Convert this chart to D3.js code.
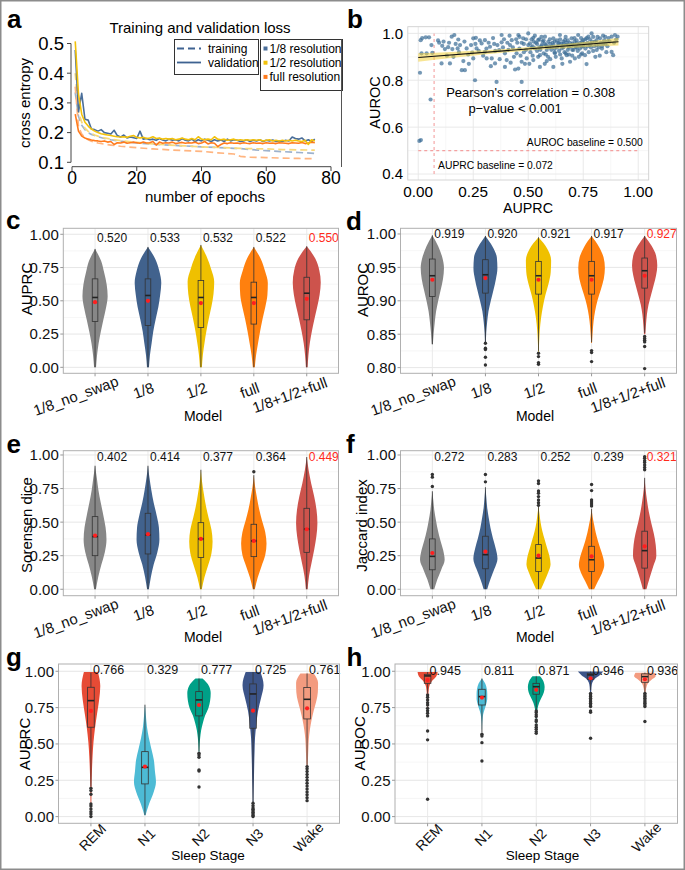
<!DOCTYPE html>
<html><head><meta charset="utf-8">
<script src="https://cdn.jsdelivr.net/npm/d3@7"></script>
<style>
body{margin:0;background:#fff}
svg{display:block}
text{font-family:"Liberation Sans",Arial,Helvetica,sans-serif}
</style></head>
<body><svg id="fig" width="685" height="870"></svg>
<script>
// ================= DATA =================
// Panel a: training / validation loss
const epochs = d3.range(1, 76);
const valBlue = [0.478,0.27,0.332,0.245,0.242,0.212,0.21,0.205,0.21,0.2,
 0.198,0.195,0.208,0.19,0.185,0.192,0.182,0.185,0.183,0.18,
 0.205,0.178,0.18,0.176,0.178,0.174,0.18,0.175,0.172,0.178,
 0.174,0.176,0.172,0.18,0.174,0.172,0.178,0.17,0.176,0.172,
 0.178,0.174,0.17,0.176,0.172,0.175,0.17,0.178,0.172,0.176,
 0.174,0.17,0.172,0.176,0.17,0.174,0.172,0.176,0.17,0.174,
 0.172,0.175,0.17,0.172,0.17,0.174,0.172,0.185,0.18,0.178,
 0.182,0.172,0.176,0.17,0.178];
const valYellow = [0.507,0.33,0.262,0.235,0.222,0.212,0.205,0.2,0.196,0.194,
 0.192,0.19,0.188,0.186,0.185,0.186,0.184,0.188,0.19,0.184,
 0.182,0.184,0.18,0.182,0.186,0.18,0.182,0.178,0.18,0.178,
 0.18,0.176,0.178,0.182,0.178,0.176,0.18,0.176,0.186,0.178,
 0.176,0.178,0.176,0.186,0.178,0.176,0.178,0.174,0.176,0.178,
 0.174,0.176,0.174,0.176,0.174,0.176,0.174,0.176,0.172,0.174,
 0.176,0.172,0.174,0.172,0.174,0.172,0.174,0.172,0.174,0.172,
 0.17,0.174,0.16,0.176,0.172];
const valOrange = [0.262,0.205,0.188,0.182,0.178,0.175,0.173,0.172,0.17,0.172,
 0.168,0.17,0.16,0.166,0.165,0.168,0.164,0.166,0.168,0.166,
 0.164,0.168,0.165,0.166,0.17,0.158,0.168,0.164,0.166,0.165,
 0.168,0.163,0.165,0.167,0.164,0.166,0.165,0.168,0.163,0.165,
 0.17,0.162,0.166,0.164,0.153,0.16,0.165,0.163,0.166,0.164,
 0.165,0.163,0.166,0.164,0.163,0.166,0.164,0.165,0.163,0.166,
 0.164,0.165,0.163,0.166,0.165,0.164,0.163,0.166,0.165,0.164,
 0.167,0.163,0.165,0.168,0.166];
const trainEpochs = [1,2,3,4,5,6,7,8,10,12,15,20,25,30,35,40,45,50,52,55,60,65,70,75];
const trainBlue = [0.335,0.255,0.225,0.21,0.2,0.194,0.19,0.186,0.18,0.176,0.171,0.165,0.161,0.158,0.155,0.152,0.15,0.147,0.146,0.143,0.139,0.136,0.133,0.13];
const trainYellow = [0.40,0.27,0.235,0.215,0.204,0.197,0.192,0.188,0.182,0.178,0.173,0.167,0.162,0.158,0.155,0.152,0.15,0.148,0.147,0.146,0.145,0.143,0.142,0.141];
const trainOrange = [0.355,0.22,0.195,0.183,0.176,0.171,0.168,0.165,0.161,0.158,0.154,0.149,0.145,0.142,0.139,0.137,0.132,0.128,0.12,0.117,0.116,0.114,0.113,0.112];
const lossTicksX = [0,20,40,60,80];
const lossTicksY = [0.1,0.2,0.3,0.4,0.5];
const lossLegendLines = ["training","validation"];
const lossLegendRes = ["1/8 resolution","1/2 resolution","full resolution"];

// Panel b: scatter AUPRC vs AUROC  [AUPRC, AUROC]
const scatterPoints = [
[0.005,0.541],[0.012,0.545],[0.056,0.718],[0.008,0.832],[0.011,0.971],[0.018,0.98],[0.034,0.983],[0.049,0.983],[0.015,0.915],[0.038,0.915],[0.064,0.917],[0.06,0.95],[0.09,0.97],[0.095,0.96],
[0.109,0.947],[0.121,0.933],[0.136,0.941],[0.152,0.986],[0.164,0.993],[0.155,0.933],[0.179,0.936],[0.182,0.974],[0.106,0.872],[0.144,0.872],[0.13,0.905],[0.17,0.955],[0.19,0.95],[0.115,0.965],[0.198,0.843],[0.16,0.9],[0.14,0.96],[0.185,0.92],
[0.205,0.882],[0.212,0.843],[0.22,0.936],[0.227,0.91],[0.25,0.979],[0.262,0.981],[0.258,0.80],[0.265,0.936],[0.25,0.893],[0.288,0.957],[0.24,0.95],[0.275,0.925],[0.21,0.965],[0.23,0.87],[0.295,0.905],[0.28,0.97],[0.26,0.955],[0.245,0.918],
[0.303,0.971],[0.303,0.921],[0.311,0.893],[0.326,0.943],[0.334,0.893],[0.349,0.872],[0.356,0.793],[0.368,0.929],[0.379,0.993],[0.379,0.962],[0.394,0.915],[0.394,0.857],[0.32,0.96],[0.34,0.98],[0.36,0.95],[0.385,0.94],[0.31,0.935],[0.35,0.925],[0.37,0.89],[0.33,0.86],[0.39,0.975],[0.345,0.955],
[0.402,0.886],[0.417,0.95],[0.425,0.971],[0.44,0.846],[0.447,0.915],[0.455,0.993],[0.477,0.979],[0.47,0.879],[0.493,0.893],[0.455,0.85],[0.47,0.793],[0.41,0.93],[0.43,0.94],[0.435,0.9],[0.45,0.96],[0.46,0.935],[0.48,0.955],[0.49,0.93],[0.405,0.96],[0.42,0.875],[0.465,0.905],[0.485,0.87],[0.445,0.975],[0.415,0.99],
[0.50,1.0],[0.508,0.957],[0.523,0.981],[0.53,0.936],[0.545,0.971],[0.553,0.907],[0.561,0.95],[0.576,0.986],[0.584,0.929],[0.591,0.964],[0.523,0.886],[0.553,0.857],[0.584,0.882],[0.51,0.92],[0.52,0.945],[0.535,0.96],[0.54,0.925],[0.55,0.94],[0.565,0.965],[0.57,0.915],[0.58,0.95],[0.595,0.94],[0.515,0.975],[0.56,0.985],[0.545,0.9],[0.59,0.9],[0.505,0.87],[0.575,0.87],[0.598,0.975],[0.555,0.93],
[0.606,0.943],[0.614,0.979],[0.621,0.915],[0.636,0.957],[0.644,0.993],[0.652,0.936],[0.667,0.971],[0.675,0.907],[0.682,0.95],[0.697,0.979],[0.614,0.857],[0.652,0.893],[0.69,0.879],[0.61,0.96],[0.62,0.935],[0.63,0.97],[0.64,0.925],[0.65,0.955],[0.66,0.94],[0.665,0.92],[0.67,0.985],[0.68,0.93],[0.69,0.96],[0.625,0.9],[0.645,0.91],[0.685,0.91],[0.635,0.945],[0.66,0.965],[0.605,0.93],[0.695,0.945],[0.655,0.87],[0.672,0.95],
[0.705,0.929],[0.712,0.893],[0.72,0.957],[0.727,0.993],[0.743,0.943],[0.75,0.971],[0.758,0.907],[0.765,0.869],[0.773,0.986],[0.78,0.95],[0.788,1.0],[0.71,0.965],[0.715,0.94],[0.725,0.925],[0.735,0.96],[0.74,0.98],[0.745,0.915],[0.755,0.955],[0.76,0.935],[0.77,0.96],[0.775,0.92],[0.785,0.94],[0.79,0.965],[0.73,0.9],[0.795,0.925],[0.765,0.98],[0.705,0.95],[0.72,0.94],[0.78,0.975],
[0.803,0.964],[0.811,0.929],[0.826,0.979],[0.841,0.957],[0.879,0.986],[0.894,0.993],[0.906,0.986],[0.879,0.921],[0.886,0.907],[0.81,0.95],[0.82,0.94],[0.83,0.96],[0.835,0.935],[0.845,0.97],[0.85,0.955],[0.86,0.945],[0.87,0.965],[0.9,0.975],[0.815,0.985],[0.855,0.92],[0.865,0.98],[0.805,0.9],[0.825,0.905],[0.84,0.99],[0.89,0.96],
[0.46,0.985],[0.47,0.96],[0.49,0.975],[0.5,0.95],[0.515,0.94],[0.525,0.965],[0.53,0.99],[0.54,0.955],[0.55,0.975],[0.56,0.945],[0.57,0.97],[0.575,0.955],[0.585,0.945],[0.6,0.955],[0.615,0.95],[0.62,0.965],[0.63,0.94],[0.64,0.96],[0.645,0.975],[0.655,0.945],[0.66,0.955],[0.675,0.96],[0.68,0.97],[0.685,0.94],[0.7,0.955],[0.7,0.93],[0.71,0.98],[0.72,0.97],[0.73,0.95],[0.735,0.935],[0.745,0.965],[0.75,0.945],[0.76,0.975],[0.77,0.945],[0.785,0.955],[0.795,0.985],[0.8,0.945],[0.81,0.97],[0.82,0.955],[0.835,0.945],[0.85,0.985],[0.86,0.965],[0.62,0.92],[0.67,0.915],[0.7,0.905],[0.74,0.91],[0.58,0.91],[0.6,0.89],[0.52,0.905],[0.48,0.92]
];
const fitX = [0, 0.91];
const fitY = [0.897, 0.964];
const bandX = [0, 0.15, 0.3, 0.45, 0.6, 0.75, 0.91];
const bandHalf = [0.018, 0.013, 0.009, 0.007, 0.008, 0.011, 0.016];
const scatterTicksX = [0, 0.25, 0.5, 0.75, 1.0];
const scatterTicksY = [0.4, 0.6, 0.8, 1.0];
const baselineAUPRC = 0.072, baselineAUROC = 0.5;

// Violin panels
const models = ["1/8_no_swap","1/8","1/2","full","1/8+1/2+full"];
const stages = ["REM","N1","N2","N3","Wake"];
const unitTicks = [0, 0.25, 0.5, 0.75, 1.0];
const aurocTicks = [0.80, 0.85, 0.90, 0.95, 1.00];

// c: AUPRC by model
const cLabels = ["0.520","0.533","0.532","0.522","0.550"];
const cRange = [[0,0.89],[0,0.905],[0,0.92],[0,0.905],[0,0.91]];
const cDensity = [
 [0.07,0.14,0.25,0.41,0.59,0.78,0.9,0.83,0.65,0.43,0],
 [0.07,0.14,0.26,0.38,0.55,0.74,0.87,0.95,0.81,0.52,0],
 [0.07,0.14,0.26,0.4,0.57,0.76,0.9,0.95,0.74,0.43,0],
 [0.07,0.16,0.3,0.45,0.62,0.82,0.97,1.0,0.8,0.5,0],
 [0.06,0.12,0.22,0.37,0.55,0.75,0.92,1.0,0.9,0.6,0]];
const cBox = [[0,0.345,0.525,0.665,0.89],[0,0.315,0.54,0.665,0.905],[0,0.30,0.525,0.652,0.92],[0,0.325,0.525,0.64,0.905],[0,0.357,0.557,0.677,0.91]];
const cMean = [0.49,0.50,0.483,0.483,0.515];
const cOut = [[],[],[],[],[]];

// d: AUROC by model
const dLabels = ["0.919","0.920","0.921","0.917","0.927"];
const dRange = [[0.835,0.998],[0.836,0.997],[0.822,0.995],[0.837,0.997],[0.85,0.997]];
const dDensity = [
 [0.04,0.1,0.18,0.28,0.44,0.63,0.8,0.875,0.74,0.44,0],
 [0.03,0.06,0.13,0.23,0.41,0.61,0.79,0.9,0.86,0.54,0],
 [0.02,0.05,0.1,0.19,0.33,0.52,0.76,0.92,0.95,0.67,0],
 [0.03,0.08,0.15,0.27,0.45,0.7,0.92,1.0,0.9,0.55,0],
 [0.05,0.1,0.17,0.29,0.48,0.68,0.86,0.95,0.86,0.52,0]];
const dBox = [[0.835,0.9065,0.9375,0.9625,0.998],[0.838,0.9115,0.939,0.9615,0.997],[0.825,0.91,0.9375,0.959,0.995],[0.838,0.91,0.9375,0.959,0.997],[0.852,0.919,0.945,0.964,0.997]];
const dMean = [0.9315,0.934,0.9315,0.9315,0.9375];
const dOut = [[],[0.8365,0.829,0.827,0.8155,0.804],[0.8215,0.8165,0.8075,0.805],[0.8255,0.8225,0.809],[0.8465,0.8435,0.841,0.8385,0.8315,0.7985]];

// e: Sorensen dice by model
const eLabels = ["0.402","0.414","0.377","0.364","0.449"];
const eRange = [[0,0.92],[0,0.92],[0,0.89],[0,0.85],[0,0.985]];
const eDensity = [
 [0.07,0.25,0.5,0.77,0.9,0.83,0.65,0.45,0.27,0.14,0],
 [0.07,0.23,0.45,0.74,0.9,0.86,0.68,0.45,0.27,0.12,0],
 [0.07,0.28,0.57,0.83,0.92,0.83,0.6,0.39,0.23,0.09,0],
 [0.08,0.3,0.6,0.9,1.0,0.9,0.65,0.42,0.25,0.1,0],
 [0.07,0.18,0.38,0.59,0.76,0.84,0.77,0.59,0.35,0.15,0]];
const eBox = [[0,0.25,0.392,0.541,0.92],[0,0.263,0.405,0.566,0.92],[0,0.236,0.375,0.496,0.89],[0,0.243,0.36,0.484,0.85],[0,0.275,0.447,0.603,0.985]];
const eMean = [0.40,0.41,0.375,0.36,0.447];
const eOut = [[],[],[],[0.875],[]];

// f: Jaccard index by model
const fLabels = ["0.272","0.283","0.252","0.239","0.321"];
const fRange = [[0,0.73],[0,0.76],[0,0.62],[0,0.60],[0,0.83]];
const fDensity = [
 [0.15,0.39,0.7,0.97,0.85,0.63,0.44,0.29,0.16,0.08,0],
 [0.14,0.4,0.71,0.95,0.81,0.59,0.4,0.26,0.14,0.07,0],
 [0.19,0.48,0.76,0.95,0.86,0.67,0.48,0.3,0.17,0.08,0],
 [0.2,0.5,0.82,1.0,0.9,0.7,0.5,0.33,0.2,0.08,0],
 [0.14,0.39,0.66,0.92,0.87,0.72,0.51,0.32,0.18,0.07,0]];
const fBox = [[0,0.145,0.245,0.375,0.73],[0,0.1525,0.2575,0.395,0.76],[0,0.1325,0.2325,0.3325,0.62],[0,0.1325,0.22,0.32,0.60],[0,0.1575,0.2875,0.4325,0.83]];
const fMean = [0.27,0.28,0.25,0.245,0.32];
const fOut = [[0.765,0.835,0.855],[0.80,0.855],[0.625,0.645,0.665,0.69,0.715,0.7325,0.7875,0.8075],[0.62,0.635,0.65,0.665,0.735,0.78],[0.89,0.9075,0.925,0.945,0.9575,0.975,0.9875]];

// g: AUPRC by sleep stage
const gLabels = ["0.766","0.329","0.777","0.725","0.761"];
const gRange = [[0.03,0.995],[0.01,0.77],[0.44,0.95],[0.09,0.995],[0.34,0.985]];
const gDensity = [
 [0.02,0.04,0.055,0.09,0.14,0.22,0.35,0.52,0.7,0.8,0.6],
 [0.05,0.35,0.72,0.94,0.85,0.76,0.55,0.33,0.17,0.08,0],
 [0.02,0.05,0.1,0.18,0.33,0.52,0.8,0.95,1.0,0.85,0.3],
 [0.03,0.05,0.08,0.1,0.13,0.17,0.28,0.42,0.68,0.9,0.63],
 [0.05,0.08,0.11,0.15,0.24,0.38,0.56,0.78,0.92,0.94,0.57]];
const gBox = [[0.21,0.615,0.798,0.89,0.99],[0.01,0.225,0.339,0.447,0.77],[0.45,0.693,0.803,0.86,0.95],[0.1,0.608,0.844,0.913,0.995],[0.35,0.672,0.807,0.888,0.985]];
const gMean = [0.727,0.344,0.768,0.729,0.745];
const gOut = [[0.195,0.179,0.154,0.087,0.073,0.053,0.034,0.018,0.0],[],[0.436,0.424,0.408,0.321,0.314,0.204],[0.092,0.075,0.06,0.05,0.04,0.03,0.02,0.01,0.0],[0.344,0.33,0.31,0.29,0.27,0.25,0.23,0.21,0.19,0.17,0.15,0.13,0.11]];

// h: AUROC by sleep stage
const hLabels = ["0.945","0.811","0.871","0.946","0.936"];
const hRange = [[0.69,0.995],[0.6,0.95],[0.6,0.965],[0.75,0.998],[0.75,0.99]];
const hDensity = [
 [0.01,0.015,0.02,0.03,0.04,0.06,0.09,0.16,0.36,0.68,0.79],
 [0.01,0.02,0.05,0.1,0.22,0.34,0.42,0.42,0.38,0.26,0],
 [0.01,0.02,0.03,0.06,0.11,0.22,0.42,0.6,0.66,0.58,0.3],
 [0.01,0.015,0.02,0.03,0.04,0.06,0.08,0.15,0.33,0.72,1.0],
 [0.01,0.015,0.02,0.03,0.04,0.07,0.13,0.24,0.52,0.85,0.74]];
const hBox = [[0.85,0.917,0.968,0.979,0.995],[0.58,0.768,0.826,0.876,0.95],[0.735,0.842,0.894,0.917,0.965],[0.87,0.945,0.975,0.986,0.998],[0.85,0.924,0.963,0.982,0.99]];
const hMean = [0.94,0.819,0.872,0.952,0.945];
const hOut = [[0.837,0.821,0.803,0.784,0.768,0.745,0.729,0.711,0.693,0.589,0.528,0.119],[0.567,0.555,0.509,0.383],[0.727,0.716,0.7,0.688,0.665,0.654,0.631,0.615,0.601,0.585,0.573],[0.848,0.837,0.826,0.814,0.803,0.791,0.78,0.768,0.757,0.727,0.718,0.539],[0.848,0.837,0.826,0.814,0.803,0.791,0.78,0.768,0.757,0.654]];

// ================= STYLE =================
const modelColors = ["#878787","#41628d","#efc000","#ff800e","#cd534c"];
const stageColors = ["#e64b35","#4dbbd5","#00a087","#3c5488","#f39b7f"];
const resColors = ["#4a6e9a","#f2c10a","#ff7b1c"];
const resTrainColors = ["#9db2cd","#f8d97a","#ffb580"];

const svg = d3.select("#fig");
svg.append("rect").attr("width",685).attr("height",870).attr("fill","#fff");

function letter(t, x, y){
  svg.append("text").attr("x",x).attr("y",y).attr("font-size",26).attr("font-weight","bold").attr("fill","#000").text(t);
}

// ================= PANEL A =================
(function(){
  const g = svg.append("g");
  const x = d3.scaleLinear().domain([0,80]).range([72,331]);
  const y = d3.scaleLinear().domain([0.1,0.5]).range([162.3,43.5]);
  const axisCol = "#444";
  g.append("line").attr("x1",71).attr("x2",71).attr("y1",y(0.1)).attr("y2",y(0.5)).attr("stroke",axisCol);
  lossTicksY.forEach(t=>{
    g.append("line").attr("x1",67).attr("x2",71).attr("y1",y(t)).attr("y2",y(t)).attr("stroke",axisCol);
    g.append("text").attr("x",64).attr("y",y(t)).attr("dy","0.36em").attr("text-anchor","end").attr("font-size",18.5).text(d3.format(".1f")(t));
  });
  g.append("line").attr("x1",x(0)).attr("x2",x(80)).attr("y1",166.7).attr("y2",166.7).attr("stroke",axisCol);
  lossTicksX.forEach(t=>{
    g.append("line").attr("x1",x(t)).attr("x2",x(t)).attr("y1",166.7).attr("y2",171).attr("stroke",axisCol);
    g.append("text").attr("x",x(t)).attr("y",184).attr("text-anchor","middle").attr("font-size",17.5).text(t);
  });
  const lineT = d3.line().x((d,i)=>x(trainEpochs[i])).y(d=>y(d));
  const lineV = d3.line().x((d,i)=>x(epochs[i])).y(d=>y(d));
  [trainBlue,trainYellow,trainOrange].forEach((s,i)=>{
    g.append("path").attr("d",lineT(s)).attr("fill","none").attr("stroke",resTrainColors[i]).attr("stroke-width",1.7).attr("stroke-dasharray","7,4");
  });
  [[valBlue,0],[valOrange,2],[valYellow,1]].forEach(([s,i])=>{
    g.append("path").attr("d",lineV(s)).attr("fill","none").attr("stroke",resColors[i]).attr("stroke-width",1.6).attr("stroke-linejoin","round");
  });
  g.append("text").attr("x",200).attr("y",33).attr("text-anchor","middle").attr("font-size",15).text("Training and validation loss");
  g.append("text").attr("transform","translate(30,103) rotate(-90)").attr("text-anchor","middle").attr("font-size",15).text("cross entropy");
  g.append("text").attr("x",205).attr("y",201.5).attr("text-anchor","middle").attr("font-size",15).text("number of epochs");
  g.append("rect").attr("x",174.5).attr("y",39.5).attr("width",84).attr("height",35).attr("fill","#fff").attr("stroke","#333");
  lossLegendLines.forEach((t,i)=>{
    const yy = 48.5 + i*14;
    g.append("line").attr("x1",177).attr("x2",201).attr("y1",yy).attr("y2",yy).attr("stroke","#3e6291").attr("stroke-width",1.8).attr("stroke-dasharray", i===0?"7,4":null);
    g.append("text").attr("x",208).attr("y",yy).attr("dy","0.35em").attr("font-size",12).text(t);
  });
  g.append("rect").attr("x",260.5).attr("y",39.5).attr("width",82).attr("height",51).attr("fill","#fff").attr("stroke","#333");
  lossLegendRes.forEach((t,i)=>{
    const yy = 48.5 + i*14.2;
    g.append("rect").attr("x",263.5).attr("y",yy-2).attr("width",4).attr("height",4).attr("fill",resColors[i]);
    g.append("text").attr("x",269.5).attr("y",yy).attr("dy","0.35em").attr("font-size",12).text(t);
  });
  // frame edge on the right of panel a
  g.append("line").attr("x1",341.5).attr("x2",341.5).attr("y1",39.5).attr("y2",167).attr("stroke","#555").attr("stroke-width",1);
  letter("a",7,28);
})();

// ================= PANEL B =================
(function(){
  const g = svg.append("g");
  const L=407.8,R=648.7,T=26.7,B=180;
  const x = d3.scaleLinear().domain([-0.0475,1.0475]).range([L,R]);
  const y = d3.scaleLinear().domain([0.3745,1.0285]).range([B,T]);
  [0.125,0.375,0.625,0.875].forEach(t=>g.append("line").attr("x1",x(t)).attr("x2",x(t)).attr("y1",T).attr("y2",B).attr("stroke","#f2f2f2").attr("stroke-width",0.6));
  [0.5,0.7,0.9].forEach(t=>g.append("line").attr("x1",L).attr("x2",R).attr("y1",y(t)).attr("y2",y(t)).attr("stroke","#f2f2f2").attr("stroke-width",0.6));
  scatterTicksX.forEach(t=>g.append("line").attr("x1",x(t)).attr("x2",x(t)).attr("y1",T).attr("y2",B).attr("stroke","#e6e6e6").attr("stroke-width",0.9));
  scatterTicksY.forEach(t=>g.append("line").attr("x1",L).attr("x2",R).attr("y1",y(t)).attr("y2",y(t)).attr("stroke","#e6e6e6").attr("stroke-width",0.9));
  g.append("rect").attr("x",L).attr("y",T).attr("width",R-L).attr("height",B-T).attr("fill","none").attr("stroke","#d0d0d0").attr("stroke-width",0.9);
  g.append("line").attr("x1",x(baselineAUPRC)).attr("x2",x(baselineAUPRC)).attr("y1",y(0.4)).attr("y2",y(1.0)).attr("stroke","#f4a0a0").attr("stroke-width",1.1).attr("stroke-dasharray","3,3");
  g.append("line").attr("x1",x(0)).attr("x2",x(1)).attr("y1",y(baselineAUROC)).attr("y2",y(baselineAUROC)).attr("stroke","#f4a0a0").attr("stroke-width",1.1).attr("stroke-dasharray","3,3");
  g.selectAll("circle.pt").data(scatterPoints).enter().append("circle")
    .attr("cx",d=>x(d[0])).attr("cy",d=>y(d[1])).attr("r",2.1).attr("fill","#3b6c96").attr("fill-opacity",0.7);
  const slope = (fitY[1]-fitY[0])/(fitX[1]-fitX[0]);
  const fit = v => fitY[0] + slope*(v-fitX[0]);
  const band = bandX.map((v,i)=>({v, lo: fit(v)-bandHalf[i], hi: fit(v)+bandHalf[i]}));
  g.append("path").attr("d", d3.area().curve(d3.curveMonotoneX).x(d=>x(d.v)).y0(d=>y(d.lo)).y1(d=>y(d.hi))(band))
    .attr("fill","#f2cf3a").attr("fill-opacity",0.55);
  g.append("line").attr("x1",x(fitX[0])).attr("x2",x(fitX[1])).attr("y1",y(fitY[0])).attr("y2",y(fitY[1])).attr("stroke","#111").attr("stroke-width",1.1);
  scatterTicksY.forEach(t=>g.append("text").attr("x",403).attr("y",y(t)).attr("dy","0.36em").attr("text-anchor","end").attr("font-size",15).text(d3.format(".1f")(t)));
  scatterTicksX.forEach(t=>g.append("text").attr("x",x(t)).attr("y",196.5).attr("text-anchor","middle").attr("font-size",15.3).text(d3.format(".2f")(t)));
  g.append("text").attr("transform","translate(380,102.5) rotate(-90)").attr("text-anchor","middle").attr("font-size",14.5).text("AUROC");
  g.append("text").attr("x",528).attr("y",213).attr("text-anchor","middle").attr("font-size",14.3).text("AUPRC");
  g.append("text").attr("x",530.7).attr("y",96.7).attr("text-anchor","middle").attr("font-size",13).text("Pearson's correlation = 0.308");
  g.append("text").attr("x",515).attr("y",113.3).attr("text-anchor","middle").attr("font-size",13).text("p\u2212value < 0.001");
  g.append("text").attr("x",x(1.0)+4.5).attr("y",y(0.5)-4.5).attr("text-anchor","end").attr("font-size",10.3).text("AUROC baseline = 0.500");
  g.append("text").attr("x",x(baselineAUPRC)+4).attr("y",y(0.4)-5).attr("font-size",10.3).text("AUPRC baseline = 0.072");
  letter("b",347,28);
})();

// ================= VIOLIN PANELS =================
function violinPanel(o){
  const g = svg.append("g");
  const y = d3.scaleLinear().domain(o.yDomain).range([o.bottom,o.top]);
  const x = d3.scalePoint().domain(o.cats).range([o.left,o.right]).padding(0.6);
  const w = d3.scaleLinear().domain([0,1]).range([0,o.halfMax]);
  o.minor.forEach(t=>g.append("line").attr("x1",o.left).attr("x2",o.right).attr("y1",y(t)).attr("y2",y(t)).attr("stroke","#f0f0f0").attr("stroke-width",0.6));
  o.ticks.forEach(t=>g.append("line").attr("x1",o.left).attr("x2",o.right).attr("y1",y(t)).attr("y2",y(t)).attr("stroke","#e3e3e3").attr("stroke-width",0.9));
  o.cats.forEach(c=>g.append("line").attr("x1",x(c)).attr("x2",x(c)).attr("y1",o.top).attr("y2",o.bottom).attr("stroke","#e8e8e8").attr("stroke-width",0.9));
  const areaGen = d3.area().curve(d3.curveMonotoneY);
  o.cats.forEach((c,i)=>{
    const cx = x(c);
    const [lo,hi] = o.range[i];
    const dens = o.density[i];
    const pts = dens.map((d,k)=>({v: lo + k*(hi-lo)/(dens.length-1), w: d}));
    areaGen.y(p=>y(p.v)).x0(p=>cx-w(p.w)).x1(p=>cx+w(p.w));
    g.append("path").attr("d",areaGen(pts)).attr("fill",o.colors[i]);
    const b = o.box[i];
    g.append("line").attr("x1",cx).attr("x2",cx).attr("y1",y(b[0])).attr("y2",y(b[1])).attr("stroke","#333").attr("stroke-width",0.8);
    g.append("line").attr("x1",cx).attr("x2",cx).attr("y1",y(b[3])).attr("y2",y(b[4])).attr("stroke","#333").attr("stroke-width",0.8);
    g.append("rect").attr("x",cx-o.boxHalf).attr("width",2*o.boxHalf).attr("y",y(b[3])).attr("height",y(b[1])-y(b[3]))
      .attr("fill","none").attr("stroke","#333").attr("stroke-width",0.8);
    g.append("line").attr("x1",cx-o.boxHalf).attr("x2",cx+o.boxHalf).attr("y1",y(b[2])).attr("y2",y(b[2])).attr("stroke","#222").attr("stroke-width",1.6);
    o.out[i].forEach(v=>g.append("circle").attr("cx",cx).attr("cy",y(v)).attr("r",1.7).attr("fill","#333"));
    g.append("circle").attr("cx",cx).attr("cy",y(o.mean[i])).attr("r",2.1).attr("fill","#ff1f1f");
    g.append("text").attr("x",cx+2).attr("y",y(o.labelV)).attr("dy","0.35em").attr("font-size",o.numSize)
      .attr("fill", i===o.cats.length-1 && o.lastRed ? "#ff2a1a" : "#111").text(o.labels[i]);
  });
  g.append("rect").attr("x",o.left).attr("y",o.top).attr("width",o.right-o.left).attr("height",o.bottom-o.top)
    .attr("fill","none").attr("stroke","#b0b0b0").attr("stroke-width",1);
  o.ticks.forEach(t=>{
    g.append("line").attr("x1",o.left-3).attr("x2",o.left).attr("y1",y(t)).attr("y2",y(t)).attr("stroke","#999");
    g.append("text").attr("x",o.left-4.5).attr("y",y(t)).attr("dy","0.36em").attr("text-anchor","end").attr("font-size",15).attr("fill","#111").text(d3.format(".2f")(t));
  });
  o.cats.forEach(c=>{
    g.append("line").attr("x1",x(c)).attr("x2",x(c)).attr("y1",o.bottom).attr("y2",o.bottom+3).attr("stroke","#999");
    if(o.rot===20){
      const tx = g.append("text").attr("transform",`translate(${x(c)},${o.bottom+15.5}) rotate(-20)`)
        .attr("dy","0.35em").attr("font-size",15).attr("fill","#111").text(c);
      const len = tx.node().getComputedTextLength();
      tx.attr("x",-0.73*len);
    } else {
      g.append("text").attr("transform",`translate(${x(c)+1.5},${o.bottom+14}) rotate(-45)`)
        .attr("dy","0.35em").attr("text-anchor","middle").attr("font-size",14).attr("fill","#111").text(c);
    }
  });
  g.append("text").attr("x",o.xtX).attr("y",o.xtY).attr("text-anchor","middle").attr("font-size",o.xtSize).text(o.xTitle);
  g.append("text").attr("transform",`translate(${o.ytX},${o.ytY}) rotate(-90)`).attr("text-anchor","middle").attr("font-size",15).text(o.yTitle);
  letter(o.letter,o.lx,o.ly);
}

const unitMinor = [0.125,0.375,0.625,0.875];
violinPanel({letter:"c",lx:6,ly:229,left:63.3,right:338.5,top:228.3,bottom:373.3,yDomain:[-0.045,1.045],
  cats:models,colors:modelColors,range:cRange,density:cDensity,box:cBox,mean:cMean,out:cOut,labels:cLabels,labelV:0.975,lastRed:true,numSize:12,
  ticks:unitTicks,minor:unitMinor,halfMax:14,boxHalf:2.8,rot:20,xTitle:"Model",xtX:203,xtY:421,xtSize:14,yTitle:"AUPRC",ytX:31.5,ytY:289});
violinPanel({letter:"d",lx:346,ly:230,left:400.5,right:676.5,top:228.3,bottom:373.3,yDomain:[0.7915,1.0085],
  cats:models,colors:modelColors,range:dRange,density:dDensity,box:dBox,mean:dMean,out:dOut,labels:dLabels,labelV:1.0,lastRed:true,numSize:12,
  ticks:aurocTicks,minor:[0.825,0.875,0.925,0.975],halfMax:13.3,boxHalf:2.8,rot:20,xTitle:"Model",xtX:535,xtY:421,xtSize:14,yTitle:"AUROC",ytX:368,ytY:290});
violinPanel({letter:"e",lx:6.5,ly:452.5,left:63.3,right:338.5,top:450.7,bottom:595.7,yDomain:[-0.048,1.032],
  cats:models,colors:modelColors,range:eRange,density:eDensity,box:eBox,mean:eMean,out:eOut,labels:eLabels,labelV:0.983,lastRed:true,numSize:12,
  ticks:unitTicks,minor:unitMinor,halfMax:12.7,boxHalf:2.8,rot:20,xTitle:"Model",xtX:203,xtY:642,xtSize:14,yTitle:"Sorensen dice",ytX:31.5,ytY:525});
violinPanel({letter:"f",lx:346,ly:453,left:400.5,right:676.5,top:450.7,bottom:595.7,yDomain:[-0.048,1.032],
  cats:models,colors:modelColors,range:fRange,density:fDensity,box:fBox,mean:fMean,out:fOut,labels:fLabels,labelV:0.985,lastRed:true,numSize:12,
  ticks:unitTicks,minor:unitMinor,halfMax:12.7,boxHalf:2.8,rot:20,xTitle:"Model",xtX:535,xtY:642,xtSize:14,yTitle:"Jaccard index",ytX:367,ytY:525.5});
violinPanel({letter:"g",lx:6,ly:666,left:58.5,right:339.5,top:664,bottom:823.3,yDomain:[-0.046,1.05],
  cats:stages,colors:stageColors,range:gRange,density:gDensity,box:gBox,mean:gMean,out:gOut,labels:gLabels,labelV:1.008,lastRed:false,numSize:12.5,
  ticks:unitTicks,minor:unitMinor,halfMax:11.7,boxHalf:3.3,rot:45,xTitle:"Sleep Stage",xtX:208,xtY:860,xtSize:13.5,yTitle:"AUPRC",ytX:30,ytY:744});
violinPanel({letter:"h",lx:346.5,ly:666,left:395,right:677.5,top:664,bottom:823.3,yDomain:[-0.046,1.05],
  cats:stages,colors:stageColors,range:hRange,density:hDensity,box:hBox,mean:hMean,out:hOut,labels:hLabels,labelV:1.004,lastRed:false,numSize:12.5,
  ticks:unitTicks,minor:unitMinor,halfMax:12.7,boxHalf:3.3,rot:45,xTitle:"Sleep Stage",xtX:542.5,xtY:860,xtSize:13.5,yTitle:"AUROC",ytX:365,ytY:743.3});

svg.append("rect").attr("x",0.75).attr("y",0.75).attr("width",683.5).attr("height",868.5).attr("fill","none").attr("stroke","#8c8c8c").attr("stroke-width",1.5);
</script></body></html>
